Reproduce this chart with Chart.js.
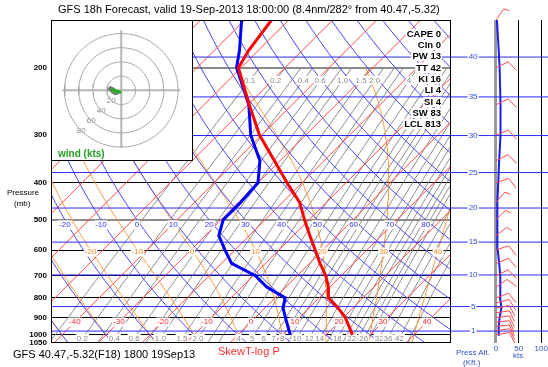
<!DOCTYPE html>
<html>
<head>
<meta charset="utf-8">
<title>GFS skew-T</title>
<script src="https://cdn.jsdelivr.net/npm/chart.js@4.4.1/dist/chart.umd.min.js"></script>
<style>
  html, body { margin: 0; padding: 0; background: #fff; }
  #wrap { position: relative; width: 548px; height: 367px; overflow: hidden; font-family: "Liberation Sans", Arial, Helvetica, sans-serif; }
  #wrap canvas { position: absolute; }
  .txt { position: absolute; white-space: nowrap; line-height: 1; }
  #hodoBox { position: absolute; left: 51px; top: 20px; width: 140px; height: 139px; border: 1px solid #000; background: #fff; }
  .stat { position: absolute; right: 106px; font-weight: bold; font-size: 9.5px; line-height: 10px; background: #fff; padding: 0 1px; }
</style>
</head>
<body>
<div id="wrap">
  <canvas id="skewt" width="548" height="367" style="left:0;top:0"></canvas>
  <canvas id="winds" width="109" height="367" style="left:451px;top:0"></canvas>
  <div id="hodoBox"><canvas id="hodo" width="140" height="139" style="left:0;top:0"></canvas></div>
  <div class="txt" style="left:58px;top:4px;font-size:11px">GFS 18h Forecast, valid 19-Sep-2013 18:00:00 (8.4nm/282° from 40.47,-5.32)</div>
  <div class="txt" style="left:58px;top:149px;font-size:10px;font-weight:bold;color:#22a022">wind (kts)</div>
  <div class="txt" style="left:7px;top:189px;font-size:8px">Pressure</div>
  <div class="txt" style="left:14px;top:200px;font-size:8px">(mb)</div>
  <div class="txt" style="left:13px;top:349px;font-size:11px">GFS 40.47,-5.32(F18) 1800 19Sep13</div>
  <div class="txt" style="left:218px;top:346px;font-size:11px;color:#ff3030">SkewT-log P</div>
  <div class="txt" style="left:456px;top:349px;font-size:8px;color:#3050c8">Press Alt.</div>
  <div class="txt" style="left:463px;top:359px;font-size:8px;color:#3050c8">(Kft.)</div>
  <div class="txt" style="left:513px;top:352px;font-size:8px;color:#3050c8">kts</div>
  <div id="stats"></div>
</div>
<script>
// sounding
const tempP = [1000, 950, 900, 850, 800, 750, 700, 650, 600, 550, 500, 450, 400, 350, 300, 250, 200, 180, 150];
const tempC = [26.0, 23.3, 20.4, 16.6, 12.2, 9.7, 6.5, 2.4, -1.7, -6.2, -11.0, -16.1, -23.4, -31.3, -40.5, -49.7, -60.6, -62.2, -63.9];
const dewP = [1000, 950, 900, 850, 800, 750, 700, 650, 600, 550, 500, 450, 400, 350, 300, 250, 200, 180, 150];
const dewC = [11.9, 9.4, 6.8, 4.1, 2.3, -4.3, -9.5, -17.7, -22.2, -26.9, -29.5, -29.5, -30.0, -34.6, -42.5, -49.8, -61.0, -64.3, -70.7];

const windP = [1000, 950, 900, 850, 800, 750, 700, 650, 600, 550, 500, 450, 400, 350, 300, 250, 200, 180, 150];
const windKt = [5, 6, 8, 12, 9, 10, 9, 7, 4, 3, 3, 3, 5, 7, 10, 10, 8, 6, 2];
const barbP = [150, 200, 250, 300, 350, 400, 450, 500, 550, 600, 650, 700, 750, 800, 825, 850, 875, 900, 925, 950, 975, 1000];
const barbDir = [35, 64, 64, 68, 64, 71, 41, 45, 52, 71, 68, 64, 55, 70, 75, 80, 82, 84, 85, 84, 82, 80];
const barbKt = [5, 10, 10, 10, 10, 10, 5, 5, 5, 10, 10, 10, 10, 10, 10, 10, 10, 10, 10, 10, 10, 10];

const hodoU = [-4, -9, -13, -16, -15, -11, -7, -3];
const hodoV = [-3, -4, -1, 2, 3, 1, -2, -3];
const stormU = [-12, 0];
const stormV = [0, -3];

const statNames = ['CAPE', 'CIn', 'PW', 'TT', 'KI', 'LI', 'SI', 'SW', 'LCL'];
const statValues = [0, 0, 13, 42, 16, 4, 4, 83, 813];

// diagram background
const isobars = [200, 300, 400, 500, 600, 700, 800, 900, 1000, 1050];
const isotherms = [-110, -100, -90, -80, -70, -60, -50, -40, -30, -20, -10, 0, 10, 20, 30, 40, 50];
const isothermLabels = [-40, -30, -20, -10, 0, 10, 20, 30, 40];
const dryAdiabats = [-40, -30, -20, -10, 0, 10, 20, 30, 40, 50, 60, 70, 80, 90, 100, 110, 120, 130, 140, 150, 160];
const dryLabels = [-20, -10, 0, 10, 20, 30, 40, 50, 60, 70, 80];
const moistAdiabats = [-40, -30, -20, -10, 0, 10, 20, 30, 40];
const moistLabels = [-20, -10, 0, 10, 20, 30, 40];
const mixRatios = [0.1, 0.2, 0.3, 0.4, 0.6, 0.8, 1, 1.5, 2, 2.5, 3, 4, 5, 6, 7, 8, 9, 10, 12, 14, 16, 18, 20, 22, 24, 26, 28, 32, 36, 42, 48];
const mixLabelsLow = [0.2, 0.4, 0.6, 1, 1.5, 2, 4, 5, 6, 7, 8, 10, 12, 14, 18, 22, 26, 32, 36, 42];
const mixLabelsHigh = [0.1, 0.2, 0.4, 0.6, 1, 1.5, 2, 4];
const altKft = [1, 5, 10, 15, 20, 25, 30, 35, 40];
const hodoRings = [20, 40, 60, 80];

const FONT = '"Liberation Sans", Arial, sans-serif';
const SKEW = 37.7;   // deg C per ln(1000/p), gives 45 degree isotherms
const sx = (t, p) => t + SKEW * Math.log(1000 / p);

function satVap(tc) { return 6.112 * Math.exp(17.67 * tc / (tc + 243.5)); }
function dewFromMix(w, p) {
  const a = Math.log(w * p / (622 + w) / 6.112);
  return 243.5 * a / (17.67 - a);
}
function moistLapse(tk, p) {
  const es = satVap(tk - 273.15);
  const rs = 0.622 * es / (p - es);
  return (287.04 * tk + 2.501e6 * rs) / (p * (1005.7 + 2.501e6 * 2.501e6 * rs * 0.622 / (287.04 * tk * tk)));
}
function moistCurve(thw) {
  const pts = [];
  let t = thw + 273.15;
  for (let p = 1000; p >= 200; p -= 5) {
    pts.push({ p, t: t - 273.15 });
    const k1 = moistLapse(t, p);
    const k2 = moistLapse(t - k1 * 2.5, p - 2.5);
    t -= k2 * 5;
  }
  t = thw + 273.15;
  for (let p = 1000; p < 1050; p += 5) {
    const k1 = moistLapse(t, p);
    const k2 = moistLapse(t + k1 * 2.5, p + 2.5);
    t += k2 * 5;
    pts.unshift({ p: p + 5, t: t - 273.15 });
  }
  return pts;
}
function altToP(kft) {
  const h = kft * 304.8;
  return h <= 11000 ? 1013.25 * Math.pow(1 - 2.25577e-5 * h, 5.25588) : 226.32 * Math.exp(-(h - 11000) / 6341.6);
}

const sampleP = [];
for (let p = 1050; p >= 150; p -= 10) sampleP.push(p);
const mixP = sampleP.filter(p => p >= 200);

function path(points, color, width, order, extra) {
  return Object.assign({ data: points, showLine: true, borderColor: color, borderWidth: width,
    pointRadius: 0, fill: false, tension: 0, order }, extra || {});
}

function tag(ctx, text, px, py, color) {
  const w = ctx.measureText(text).width;
  ctx.fillStyle = '#fff';
  ctx.fillRect(px - w / 2 - 1, py - 4.5, w + 2, 9);
  ctx.fillStyle = color;
  ctx.fillText(text, px, py);
}

// ---------- main skew-T ----------
const XMIN = -42.5, XMAX = 48.41;
const moistCurves = moistAdiabats.map(moistCurve);

const ds = [];
ds.push(path(tempP.map((p, i) => ({ x: sx(tempC[i], p), y: p })), '#ff0000', 3, 0, { label: 'Temperature' }));
ds.push(path(dewP.map((p, i) => ({ x: sx(dewC[i], p), y: p })), '#0000ff', 3, 1, { label: 'Dewpoint' }));
altKft.forEach(k => ds.push(path([{ x: XMIN, y: altToP(k) }, { x: XMAX, y: altToP(k) }], '#2a2aff', 1, 2)));
isotherms.forEach(t => ds.push(path([{ x: sx(t, 1050), y: 1050 }, { x: sx(t, 150), y: 150 }], '#ff4a4a', 1, 3)));
dryAdiabats.forEach(th => ds.push(path(sampleP.map(p => ({
  x: sx((th + 273.15) * Math.pow(p / 1000, 0.2857) - 273.15, p), y: p })), '#4646ff', 1, 4)));
moistCurves.forEach(c => ds.push(path(c.map(q => ({ x: sx(q.t, q.p), y: q.p })), '#ff9a3c', 1, 5)));
mixRatios.forEach(w => ds.push(path(mixP.map(p => ({ x: sx(dewFromMix(w, p), p), y: p })), '#8a8a8a', 1, 6)));

const skewDecor = {
  id: 'skewDecor',
  beforeDatasetDraw(chart, args) {
    if (chart.data.datasets[args.index].label !== 'Dewpoint') return;
    const { ctx, chartArea: a, scales: { x, y } } = chart;
    ctx.save();
    ctx.beginPath();
    ctx.rect(a.left, a.top, a.right - a.left, a.bottom - a.top);
    ctx.clip();
    ctx.font = '8px ' + FONT;
    ctx.textAlign = 'center';
    ctx.textBaseline = 'middle';
    isothermLabels.forEach(t => tag(ctx, String(t), x.getPixelForValue(sx(t, 925)), y.getPixelForValue(925), '#ff2a2a'));
    const y500 = y.getPixelForValue(500);
    dryLabels.forEach(th => {
      const t = (th + 273.15) * Math.pow(0.5, 0.2857) - 273.15;
      tag(ctx, String(th), x.getPixelForValue(sx(t, 500)), y500 + 5, '#3434ff');
    });
    const y600 = y.getPixelForValue(600);
    moistLabels.forEach(thw => {
      const q = moistCurves[moistAdiabats.indexOf(thw)].find(r => r.p === 600);
      tag(ctx, String(thw), x.getPixelForValue(sx(q.t, 600)), y600 + 2, '#ff8a20');
    });
    const fmt = w => (w < 3 ? w.toFixed(1) : String(w));
    mixLabelsLow.forEach(w => tag(ctx, fmt(w), x.getPixelForValue(sx(dewFromMix(w, 1021), 1021)), y.getPixelForValue(1021), '#8a8a8a'));
    mixLabelsHigh.forEach(w => tag(ctx, fmt(w), x.getPixelForValue(sx(dewFromMix(w, 216), 216)), y.getPixelForValue(216), '#8a8a8a'));
    ctx.restore();
  },
  afterDatasetsDraw(chart) {
    const { ctx, chartArea: a } = chart;
    ctx.save();
    ctx.strokeStyle = '#000';
    ctx.lineWidth = 1;
    ctx.strokeRect(a.left + 0.5, a.top + 0.5, a.right - a.left - 1, a.bottom - a.top - 1);
    ctx.restore();
  }
};

new Chart(document.getElementById('skewt'), {
  type: 'scatter',
  data: { datasets: ds },
  options: {
    responsive: false, animation: false, events: [], devicePixelRatio: 1,
    layout: { padding: { left: 0, top: 20, right: 97, bottom: 24 } },
    plugins: { legend: { display: false }, tooltip: { enabled: false } },
    scales: {
      x: { type: 'linear', display: false, min: XMIN, max: XMAX },
      y: {
        type: 'logarithmic', reverse: true, min: 150, max: 1050,
        afterBuildTicks: ax => { ax.ticks = isobars.map(v => ({ value: v })); },
        afterFit: ax => { ax.width = 51; },
        border: { display: false },
        grid: {
          drawTicks: false,
          color: c => (c.tick.value === 200 || c.tick.value === 500 ? '#8c8c8c' : '#000'),
          lineWidth: c => (c.tick.value === 1050 ? 0 : (c.tick.value === 200 || c.tick.value === 500 ? 2 : 1))
        },
        ticks: { autoSkip: false, padding: 4, color: '#000', font: { size: 8, weight: 'bold', family: FONT }, callback: v => String(v) }
      }
    }
  },
  plugins: [skewDecor]
});

// ---------- wind speed / barbs panel ----------
const windDs = [];
windDs.push(path(windP.map((p, i) => ({ x: windKt[i], y: p })), '#1a1aff', 2, 0));
altKft.forEach(k => windDs.push(path([{ x: -99.3, y: altToP(k) }, { x: 141.3, y: altToP(k) }], '#2a2aff', 1, 1)));

const windDecor = {
  id: 'windDecor',
  afterDatasetsDraw(chart) {
    const { ctx, scales: { x, y } } = chart;
    ctx.save();
    ctx.font = '8px ' + FONT;
    ctx.textAlign = 'center';
    ctx.textBaseline = 'middle';
    altKft.forEach(k => tag(ctx, String(k), x.getPixelForValue(-50.5), y.getPixelForValue(altToP(k)), '#3050dd'));
    ctx.strokeStyle = '#ff4a4a';
    ctx.lineWidth = 1;
    barbP.forEach((p, i) => {
      const x0 = x.getPixelForValue(0), y0 = y.getPixelForValue(p);
      const a = barbDir[i] * Math.PI / 180;
      const ux = Math.sin(a), uy = -Math.cos(a);
      const tx = x0 + ux * 13.5, ty = y0 + uy * 13.5;
      const fa = a + 72 * Math.PI / 180, fx = Math.sin(fa), fy = -Math.cos(fa);
      ctx.beginPath();
      ctx.moveTo(x0, y0);
      ctx.lineTo(tx, ty);
      let spd = barbKt[i], off = 0;
      while (spd >= 10) {
        const bx = tx - ux * off, by = ty - uy * off;
        ctx.moveTo(bx, by); ctx.lineTo(bx + fx * 12, by + fy * 12);
        spd -= 10; off += 3;
      }
      if (spd >= 5) {
        const bx = tx - ux * off, by = ty - uy * off;
        ctx.moveTo(bx, by); ctx.lineTo(bx + fx * 6, by + fy * 6);
      }
      ctx.stroke();
    });
    ctx.restore();
  }
};

new Chart(document.getElementById('winds'), {
  type: 'scatter',
  data: { datasets: windDs },
  options: {
    responsive: false, animation: false, events: [], devicePixelRatio: 1,
    layout: { padding: { left: 0, top: 20, right: 0, bottom: 0 } },
    plugins: { legend: { display: false }, tooltip: { enabled: false } },
    scales: {
      x: {
        type: 'linear', min: -99.3, max: 141.3,
        afterBuildTicks: ax => { ax.ticks = [0, 50, 100].map(v => ({ value: v })); },
        afterFit: ax => { ax.height = 24; },
        border: { display: false },
        grid: {
          drawTicks: false,
          color: c => (c.tick.value === 0 ? '#9a9a9a' : '#000'),
          lineWidth: c => (c.tick.value === 0 ? 3 : 1)
        },
        ticks: { autoSkip: false, maxRotation: 0, padding: 1, color: '#3050c8', font: { size: 8, family: FONT } }
      },
      y: { type: 'logarithmic', reverse: true, min: 150, max: 1050, display: false }
    }
  },
  plugins: [windDecor]
});

// ---------- hodograph inset ----------
const hodoDs = [];
hodoDs.push(path(stormU.map((u, i) => ({ x: u, y: stormV[i] })), '#20b020', 3, 0,
  { pointRadius: [3, 0], pointStyle: 'triangle', pointBackgroundColor: '#20b020', pointBorderWidth: 0, rotation: -90 }));
hodoDs.push(path(hodoU.map((u, i) => ({ x: u, y: hodoV[i] })), '#7a7a7a', 4, 1));
hodoRings.forEach(r => {
  const pts = [];
  for (let a = 0; a <= 360; a += 6) pts.push({ x: r * Math.cos(a * Math.PI / 180), y: r * Math.sin(a * Math.PI / 180) });
  hodoDs.push(path(pts, '#a8a8a8', 1, 2));
});
hodoDs.push(path([{ x: -83, y: 0 }, { x: 83, y: 0 }], '#b4b4b4', 2, 3));
hodoDs.push(path([{ x: 0, y: -81 }, { x: 0, y: 85 }], '#b4b4b4', 2, 3));

const hodoDecor = {
  id: 'hodoDecor',
  afterDatasetDraw(chart, args) {
    if (args.index !== hodoDs.length - 1) return;
    const { ctx, scales: { x, y } } = chart;
    ctx.save();
    ctx.font = '8px ' + FONT;
    ctx.textAlign = 'center';
    ctx.textBaseline = 'middle';
    hodoRings.forEach(r => tag(ctx, String(r), x.getPixelForValue(-r * 0.7071), y.getPixelForValue(-r * 0.7071), '#8a8a8a'));
    ctx.restore();
  }
};

new Chart(document.getElementById('hodo'), {
  type: 'scatter',
  data: { datasets: hodoDs },
  options: {
    responsive: false, animation: false, events: [], devicePixelRatio: 1,
    layout: { padding: 0 },
    plugins: { legend: { display: false }, tooltip: { enabled: false } },
    scales: {
      x: { type: 'linear', display: false, min: -92, max: 94 },
      y: { type: 'linear', display: false, min: -92.5, max: 92 }
    }
  },
  plugins: [hodoDecor]
});

// stability indices box
const stats = document.getElementById('stats');
statNames.forEach((n, i) => {
  const d = document.createElement('div');
  d.className = 'stat';
  d.style.top = (28.5 + i * 11.34) + 'px';
  d.textContent = n + ' ' + statValues[i];
  stats.appendChild(d);
});
</script>
</body>
</html>
